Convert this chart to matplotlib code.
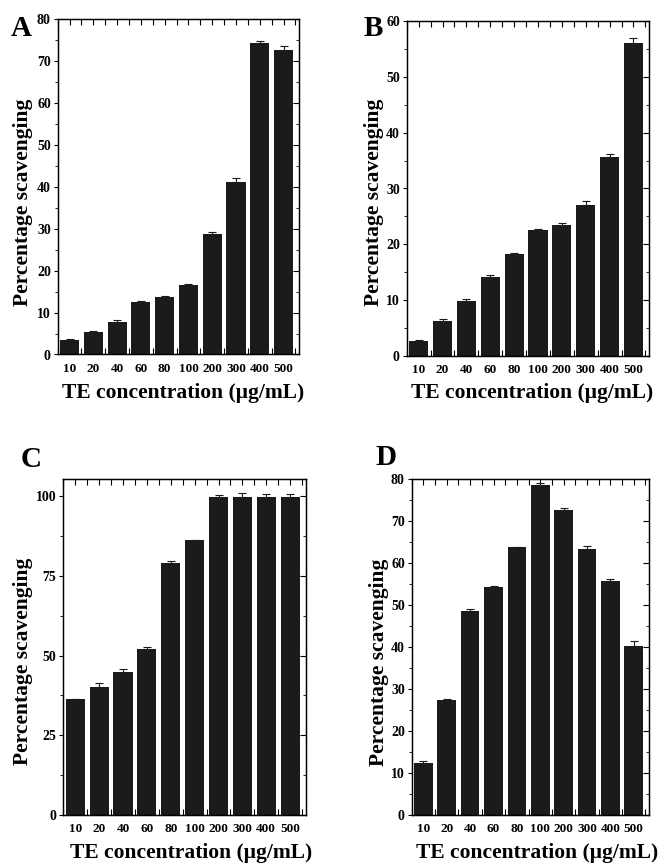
import matplotlib
matplotlib.use("Agg")
import matplotlib.pyplot as plt
import numpy as np

plt.rcParams['font.family'] = ['Liberation Serif', 'DejaVu Serif']
plt.rcParams['font.weight'] = 'bold'

categories = ["10", "20", "40", "60", "80", "100", "200", "300", "400", "500"]

vals_A = [3.4, 5.3, 7.8, 12.5, 13.8, 16.5, 28.8, 41.2, 74.4, 72.7]
err_A = [0.3, 0.4, 0.5, 0.3, 0.2, 0.3, 0.4, 0.9, 0.4, 1.0]

vals_B = [2.7, 6.2, 9.9, 14.2, 18.3, 22.5, 23.4, 27.1, 35.7, 56.1]
err_B = [0.2, 0.4, 0.3, 0.3, 0.2, 0.3, 0.4, 0.6, 0.5, 0.9]

vals_C = [36.3, 40.3, 44.9, 52.0, 79.2, 86.2, 99.6, 99.7, 99.7, 99.8]
err_C = [0.2, 1.0, 0.8, 0.7, 0.6, 0.2, 0.8, 1.4, 1.0, 0.9]

vals_D = [12.5, 27.3, 48.5, 54.2, 63.8, 78.6, 72.7, 63.3, 55.7, 40.2]
err_D = [0.3, 0.4, 0.5, 0.3, 0.1, 0.4, 0.4, 0.8, 0.6, 1.2]

W, H = 659, 863
fig = plt.figure(figsize=(W / 100, H / 100), dpi=100)

def fx(px):
    return px / W

def fy(py):
    return 1 - py / H

panels = [
    dict(letter="A", vals=vals_A, err=err_A, box=(57.7, 19.3, 299.0, 354.5), ylim=80, yt=np.arange(0, 81, 10),
         lab=(21, 28), ylab=(23, 202), xlab=(183, 393)),
    dict(letter="B", vals=vals_B, err=err_B, box=(406.7, 21.0, 649.0, 356.0), ylim=60, yt=np.arange(0, 61, 10),
         lab=(373, 28), ylab=(374, 202), xlab=(532, 393)),
    dict(letter="C", vals=vals_C, err=err_C, box=(63.3, 479.3, 305.7, 815.0), ylim=105.3, yt=np.arange(0, 101, 25),
         lab=(31, 459), ylab=(23, 661), xlab=(191, 853)),
    dict(letter="D", vals=vals_D, err=err_D, box=(411.7, 479.0, 649.0, 815.0), ylim=80, yt=np.arange(0, 81, 10),
         lab=(386, 457), ylab=(379, 662), xlab=(537, 853)),
]

for p in panels:
    l, t, r, b = p["box"]
    ax = fig.add_axes([fx(l), fy(b), fx(r) - fx(l), (b - t) / H])
    x = np.arange(len(categories))
    ax.bar(x, p["vals"], width=0.8, color="#1c1a1b", edgecolor="none", zorder=2)
    ax.errorbar(x, p["vals"], yerr=[np.zeros(len(x)), p["err"]], fmt="none",
                ecolor="#1c1a1b", elinewidth=0.8, capsize=3, capthick=0.8, zorder=3)
    ax.set_xlim(-0.5, 9.65)
    ax.set_ylim(0, p["ylim"])
    ax.set_xticks(x)
    ax.set_xticklabels(categories, fontsize=9.5, fontweight="bold")
    ax.set_xticks(np.arange(-0.5, 9.6, 1.0), minor=True)
    ax.set_yticks(p["yt"])
    ax.set_yticklabels([str(int(v)) for v in p["yt"]], fontsize=10, fontweight="bold")
    step = p["yt"][1] - p["yt"][0]
    ax.set_yticks(np.arange(step / 2, p["ylim"], step), minor=True)
    ax.tick_params(axis="x", which="both", direction="in", top=True, bottom=True, length=4, width=0.8, pad=6)
    ax.tick_params(axis="y", which="major", direction="out", left=True, right=False, length=3, width=0.8, pad=2)
    ax.tick_params(axis="y", which="minor", left=False, right=False)
    for s in ax.spines.values():
        s.set_linewidth(1.0)
    # right-side inward ticks
    ax2 = ax.twinx()
    ax2.set_ylim(0, p["ylim"])
    ax2.set_yticks(p["yt"])
    ax2.set_yticks(np.arange(step / 2, p["ylim"], step), minor=True)
    ax2.set_yticklabels([])
    ax2.tick_params(axis="y", which="major", direction="in", length=4, width=0.8)
    ax2.tick_params(axis="y", which="minor", direction="in", length=2, width=0.6)

    fig.text(fx(p["lab"][0]), fy(p["lab"][1]), p["letter"], fontsize=21, fontweight="bold",
             ha="center", va="center")
    fig.text(fx(p["ylab"][0]), fy(p["ylab"][1]), "Percentage scavenging", fontsize=15.5,
             fontweight="bold", rotation=90, ha="center", va="center")
    fig.text(fx(p["xlab"][0]), fy(p["xlab"][1]), "TE concentration (\u03bcg/mL)", fontsize=15.5,
             fontweight="bold", ha="center", va="center")

fig.savefig("out.png", dpi=100)
